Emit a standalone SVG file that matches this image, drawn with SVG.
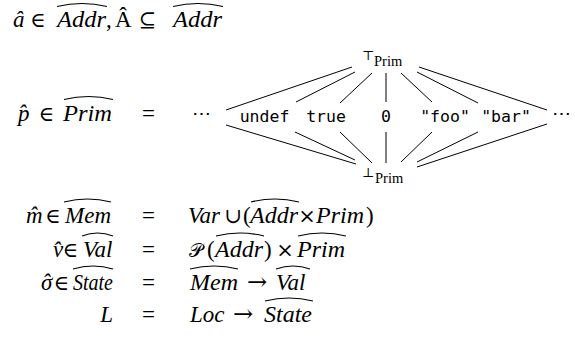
<svg xmlns="http://www.w3.org/2000/svg" width="575" height="362" viewBox="0 0 575 362">
<style>
.it{font-family:"Liberation Serif",serif;font-style:italic;font-size:23px;fill:#000}
.rm{font-family:"Liberation Serif",serif;font-size:23px;fill:#000}
.sym{font-family:"DejaVu Serif",serif;font-size:21px;fill:#000;text-anchor:middle}
.arr{font-family:"DejaVu Serif",serif;font-size:24px;fill:#000;text-anchor:middle}
.dots{font-family:"DejaVu Serif",serif;font-size:19px;fill:#000}
.mono{font-family:"DejaVu Sans Mono",monospace;font-size:16.5px;fill:#000;text-anchor:middle}
.sub{font-family:"Liberation Serif",serif;font-size:14.5px;fill:#000}
.tb{font-family:"DejaVu Serif",serif;font-size:13px;fill:#000}
.hat{fill:none;stroke:#000;stroke-width:1.1}
.edge{stroke:#000;stroke-width:1;fill:none}
.mid{text-anchor:middle}
.end{text-anchor:end}
</style>
<rect width="575" height="362" fill="#fff"/>

<g id="row-addr">
<text class="it" x="13" y="27">â</text>
<text class="sym" x="38" y="27">∈</text>
<text class="it" x="57" y="27" textLength="49" lengthAdjust="spacingAndGlyphs">Addr</text>
<path class="hat" d="M57,6.5 Q82,0.5 107,6.5"/>
<text class="rm" x="106" y="27">,</text>
<text class="rm" x="115" y="27">Â</text>
<text class="sym" x="147.5" y="27">⊆</text>
<text class="it" x="173" y="27" textLength="49" lengthAdjust="spacingAndGlyphs">Addr</text>
<path class="hat" d="M173,6.5 Q198,0.5 223,6.5"/>
</g>

<g id="row-prim">
<text class="it" x="18" y="120.5">p̂</text>
<text class="sym" x="46.5" y="120.5">∈</text>
<text class="it" x="63" y="120.5" textLength="49" lengthAdjust="spacingAndGlyphs">Prim</text>
<path class="hat" d="M64,99.5 Q88.5,93.5 113,99.5"/>
<text class="rm mid" x="148.5" y="120.5">=</text>
<text class="dots" x="192" y="120">⋯</text>
<text class="dots" x="552" y="120">⋯</text>
</g>

<g id="connectors">
<line class="edge" x1="352" y1="67" x2="226" y2="110"/>
<line class="edge" x1="355" y1="72" x2="296" y2="102"/>
<line class="edge" x1="372" y1="73" x2="340" y2="103"/>
<line class="edge" x1="386" y1="73" x2="386" y2="102"/>
<line class="edge" x1="401" y1="73" x2="432" y2="102"/>
<line class="edge" x1="417" y1="72" x2="478" y2="103"/>
<line class="edge" x1="419" y1="67" x2="547" y2="110"/>
<line class="edge" x1="226" y1="125" x2="356" y2="164"/>
<line class="edge" x1="295" y1="132" x2="355" y2="160"/>
<line class="edge" x1="340" y1="132" x2="372" y2="163"/>
<line class="edge" x1="386" y1="132" x2="386" y2="163"/>
<line class="edge" x1="432" y1="132" x2="401" y2="162"/>
<line class="edge" x1="478" y1="132" x2="417" y2="162"/>
<line class="edge" x1="547" y1="124" x2="417" y2="167"/>
</g>

<g id="top"><text class="tb" x="362" y="60">⊤</text><text class="sub" x="374" y="66">Prim</text></g>
<g id="bottom"><text class="tb" x="362" y="177">⊥</text><text class="sub" x="375" y="183">Prim</text></g>
<g id="undef"><text class="mono" x="264.5" y="122">undef</text></g>
<g id="true"><text class="mono" x="326" y="122">true</text></g>
<g id="zero"><text class="mono" x="386" y="122">0</text></g>
<g id="foo"><text class="mono" x="445" y="122">"foo"</text></g>
<g id="bar"><text class="mono" x="506" y="122">"bar"</text></g>

<g id="row-mem">
<text class="it" x="26" y="223">m̂</text>
<text class="sym" x="53" y="223">∈</text>
<text class="it" x="65" y="223" textLength="46" lengthAdjust="spacingAndGlyphs">Mem</text>
<path class="hat" d="M64,202 Q87.5,196 111,202"/>
<text class="rm mid" x="148.5" y="223">=</text>
<text class="it" x="188" y="223">Var</text>
<text class="sym" x="233" y="223">∪</text>
<text class="rm" x="243" y="223">(</text>
<text class="it" x="250" y="223" textLength="48" lengthAdjust="spacingAndGlyphs">Addr</text>
<path class="hat" d="M251,202 Q275,196 299,202"/>
<text class="sym" x="307" y="223">×</text>
<text class="it" x="316" y="223" textLength="48" lengthAdjust="spacingAndGlyphs">Prim</text>
<text class="rm" x="366" y="223">)</text>
</g>

<g id="row-val">
<text class="it" x="53" y="257">v̂</text>
<text class="sym" x="70.5" y="257">∈</text>
<text class="it" x="83" y="257">Val</text>
<path class="hat" d="M82,236 Q97.5,230 113,236"/>
<text class="rm mid" x="148.5" y="257">=</text>
<text class="dots" x="189" y="257">𝒫</text>
<text class="rm" x="207" y="257">(</text>
<text class="it" x="215" y="257" textLength="48" lengthAdjust="spacingAndGlyphs">Addr</text>
<path class="hat" d="M216,236 Q240,230 264,236"/>
<text class="rm" x="264" y="257">)</text>
<text class="sym" x="285" y="257">×</text>
<text class="it" x="297" y="257" textLength="48" lengthAdjust="spacingAndGlyphs">Prim</text>
<path class="hat" d="M298,236 Q322,230 346,236"/>
</g>

<g id="row-state">
<text class="it" x="41" y="290">σ<tspan dx="-10">ˆ</tspan></text>
<text class="sym" x="61.5" y="290">∈</text>
<text class="it" x="73" y="290" textLength="40" lengthAdjust="spacingAndGlyphs">State</text>
<path class="hat" d="M73,269 Q93,263 113,269"/>
<text class="rm mid" x="148.5" y="290">=</text>
<text class="it" x="190" y="290" textLength="48" lengthAdjust="spacingAndGlyphs">Mem</text>
<path class="hat" d="M190,269 Q214,263 238,269"/>
<text class="arr" x="257" y="290">→</text>
<text class="it" x="276" y="290">Val</text>
<path class="hat" d="M276,269 Q293,263 310,269"/>
</g>

<g id="row-loc">
<text class="it end" x="113" y="322">L</text>
<text class="rm mid" x="148.5" y="322">=</text>
<text class="it" x="190" y="322">Loc</text>
<text class="arr" x="243" y="322">→</text>
<text class="it" x="264" y="322" textLength="48" lengthAdjust="spacingAndGlyphs">State</text>
<path class="hat" d="M265,301 Q289,295 313,301"/>
</g>
</svg>
